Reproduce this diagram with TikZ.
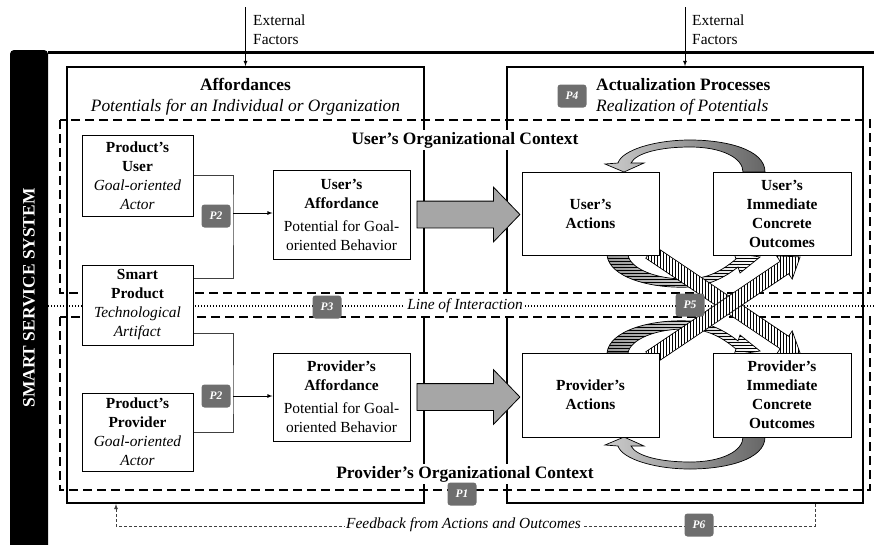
\documentclass[tikz,border=0pt]{standalone}
\usepackage{fontspec}
\setmainfont{Liberation Serif}
\usetikzlibrary{shapes,arrows,positioning,patterns}
\tikzset{
  font={\fontsize{15.4pt}{19pt}\selectfont}
}
\definecolor{colorK}{RGB}{110,110,110}
\definecolor{colorA}{RGB}{166,166,166}
\tikzstyle{box}=[draw, line width=1pt, fill=white, align=center, inner sep=1pt]
\tikzstyle{frm}=[draw, line width=1.8pt, inner sep=0pt]
\tikzstyle{ctx}=[line width=1.6pt, dash pattern=on 9pt off 5pt]
\tikzstyle{ttl}=[font={\fontsize{17.4pt}{21pt}\selectfont}, align=center, inner sep=2pt]
\tikzstyle{itl}=[font={\fontsize{15.4pt}{19pt}\selectfont\itshape}]
\tikzstyle{bld}=[font={\fontsize{15.4pt}{19pt}\selectfont\bfseries}]
\tikzstyle{badge}=[rounded corners=3pt, fill=colorK, text=white, font={\fontsize{11.5pt}{13pt}\selectfont\bfseries\itshape}, minimum width=29pt, minimum height=23pt, inner sep=0pt]
\tikzstyle{line}=[draw, -latex, line width=0.8pt]
\tikzstyle{link}=[draw, black!75, line width=0.8pt]
\tikzstyle{bigarrow}=[single arrow, draw, line width=0.8pt, fill=colorA, inner xsep=0pt, inner ysep=13pt, single arrow head extend=14pt, single arrow tip angle=92, minimum height=103pt, anchor=tail]
\tikzstyle{curvgray}=[draw, line width=0.7pt, left color=black!20, right color=black!60]
\tikzstyle{stripe}=[draw, line width=0.7pt, preaction={left color=black!40, right color=white}, pattern=horizontal lines]
\tikzstyle{xarr}=[draw, line width=0.7pt, preaction={fill=white}, pattern=vertical lines]

\begin{document}
\begin{tikzpicture}[x=1pt, y=-1pt]
\useasboundingbox (0,0) rectangle (874,544);

% system bar
\fill[rounded corners=4pt] (10,560) -- (10,50) -- (48,50) -- (48,560) -- cycle;
\node[rotate=90, text=white, font={\fontsize{17.4pt}{21pt}\selectfont\bfseries}] (sss) at (29,298) {SMART SERVICE SYSTEM};
\draw[line width=3pt] (48,52) -- (874,52);

% frames and contexts
\node[frm, minimum width=357pt, minimum height=436pt] (aff) at (245.5,285) {};
\node[frm, minimum width=356pt, minimum height=436pt] (act) at (685,285) {};
\draw[line width=1.3pt, dash pattern=on 1.3pt off 1.7pt] (48,306) -- (874,306);
\node[itl, fill=white, inner xsep=2pt, inner ysep=5pt] (loi) at (465,305.5) {Line of Interaction};
\draw[ctx] (60,120) rectangle (870,293);
\draw[ctx] (60,317) rectangle (870,490);

\node[ttl] (affT) at (245.5,96.5) {\textbf{Affordances}\\\textit{Potentials for an Individual or Organization}};
\node[ttl, align=left, anchor=west] (actT) at (594,96.5) {\textbf{Actualization Processes}\\\textit{Realization of Potentials}};
\node[ttl, fill=white] (uctxT) at (465,140) {\textbf{User's Organizational Context}};
\node[ttl, fill=white] (pctxT) at (465,474) {\textbf{Provider's Organizational Context}};

% external factors
\coordinate (extA) at (245.5,7);
\coordinate (extB) at (685,7);
\draw[line] (extA) -- (aff.north);
\draw[line] (extB) -- (act.north);
\node[anchor=west, align=left, inner sep=0pt] (extAT) at (253,30) {External\\Factors};
\node[anchor=west, align=left, inner sep=0pt] (extBT) at (692,30) {External\\Factors};

% actualization loops
\draw[curvgray] (765,172) .. controls (765,149) and (725,140) .. (690,140) .. controls (655,140) and (622,150) .. (618,163) -- (605,164) -- (624,172) -- (644,163) -- (631,163) .. controls (636,153) and (660,147) .. (690,147) .. controls (722,147) and (743,158) .. (743,172) -- cycle;
\draw[curvgray] (765,437) .. controls (765,460) and (725,469) .. (690,469) .. controls (655,469) and (622,459) .. (618,446) -- (605,445) -- (624,437) -- (644,446) -- (631,446) .. controls (636,456) and (660,462) .. (690,462) .. controls (722,462) and (743,451) .. (743,437) -- cycle;
\draw[stripe] (607,255) .. controls (609,277) and (650,289) .. (690,287) .. controls (712,285) and (728,275) .. (738,267) -- (740,273) -- (760,257) -- (734,253) -- (736,259) .. controls (724,269) and (710,278) .. (690,279) .. controls (655,280) and (630,268) .. (628,255) -- cycle;
\draw[stripe] (607,353) .. controls (609,331) and (650,319) .. (690,321) .. controls (712,323) and (728,333) .. (738,341) -- (740,335) -- (760,351) -- (734,355) -- (736,349) .. controls (724,339) and (710,330) .. (690,329) .. controls (655,328) and (630,340) .. (628,353) -- cycle;
\begin{scope}[shift={(650,252)}, rotate=-33.96]
\draw[xarr] (0,-7.5) -- (162,-7.5) -- (162,-14) -- (181,0) -- (162,14) -- (162,7.5) -- (0,7.5) -- cycle;
\end{scope}
\begin{scope}[shift={(650,358)}, rotate=33.96]
\draw[xarr] (0,-7.5) -- (162,-7.5) -- (162,-14) -- (181,0) -- (162,14) -- (162,7.5) -- (0,7.5) -- cycle;
\end{scope}

% boxes
\node[box, minimum width=111pt, minimum height=81pt] (puser) at (137.5,175.5) {\textbf{Product's}\\\textbf{User}\\\textit{Goal-oriented}\\\textit{Actor}};
\node[box, minimum width=111pt, minimum height=80pt] (smart) at (137.5,305) {\textbf{Smart}\\\textbf{Product}\\\textit{Technological}\\\textit{Artifact}};
\node[box, minimum width=111pt, minimum height=78pt] (pprov) at (137.5,432) {\textbf{Product's}\\\textbf{Provider}\\\textit{Goal-oriented}\\\textit{Actor}};
\node[box, minimum width=137pt, minimum height=89pt] (uaff) at (341.5,214.5) {\textbf{User's}\\\textbf{Affordance}\\[4pt]Potential for Goal-\\oriented Behavior};
\node[box, minimum width=137pt, minimum height=88pt] (paff) at (341.5,397) {\textbf{Provider's}\\\textbf{Affordance}\\[4pt]Potential for Goal-\\oriented Behavior};
\node[box, bld, minimum width=137pt, minimum height=83pt] (uact) at (590.5,213.5) {User's\\Actions};
\node[box, bld, minimum width=138pt, minimum height=83pt] (uout) at (782,213.5) {User's\\Immediate\\Concrete\\Outcomes};
\node[box, bld, minimum width=137pt, minimum height=84pt] (pact) at (590.5,395) {Provider's\\Actions};
\node[box, bld, minimum width=138pt, minimum height=84pt] (pout) at (782,395) {Provider's\\Immediate\\Concrete\\Outcomes};

% affordance arrows
\node[bigarrow] (uarr) at ([xshift=6pt]uaff.east) {};
\node[bigarrow] (parr) at ([xshift=6pt]paff.east) {};

% links
\coordinate (jU) at (233,213);
\coordinate (jP) at (233,396);
\draw[link] (puser.east) -| (jU) |- ([yshift=27pt]smart.east);
\draw[line] (jU) -- (uaff.west |- jU);
\draw[link] ([yshift=-28pt]smart.east) -| (jP) |- (pprov.east);
\draw[line] (jP) -- (paff.west |- jP);

% feedback
\draw[link, dash pattern=on 3pt off 2pt, -latex] ([xshift=130pt]act.south) -- ++(0,22) -| ([xshift=-129.5pt]aff.south);
\node[itl, fill=white, inner sep=1pt] (fbT) at (463.5,525) {Feedback from Actions and Outcomes};

% propositions
\node[badge] (p1) at (462,494) {P1};
\node[badge] (p2a) at (216,216) {P2};
\node[badge] (p2b) at (216,396) {P2};
\node[badge] (p3) at (327,307) {P3};
\node[badge] (p4) at (572,96) {P4};
\node[badge] (p5) at (690,305) {P5};
\node[badge] (p6) at (699,525) {P6};

\end{tikzpicture}
\end{document}
